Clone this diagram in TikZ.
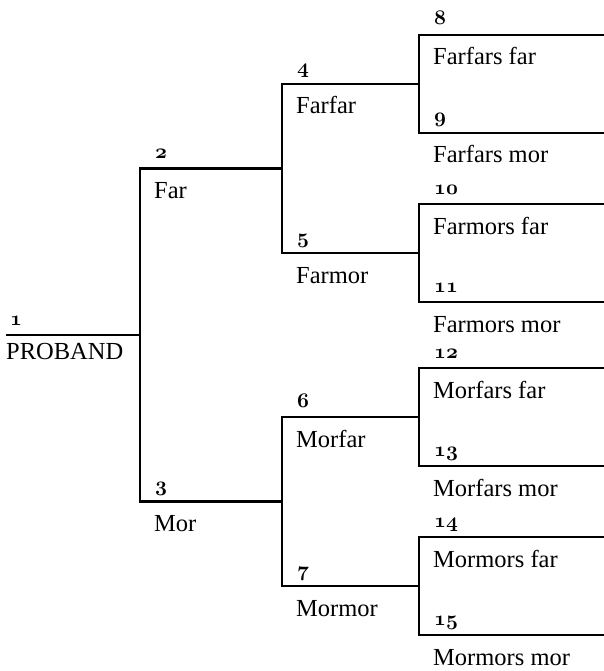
\documentclass[tikz,border=0pt]{standalone}
\usepackage{fontspec}
\setmainfont{Liberation Serif}
\usetikzlibrary{trees}
\tikzset{
    line/.style  = {line width=2.8pt},
    basic/.style = {inner sep=0pt, anchor=base west, font=\fontsize{24.5}{28}\selectfont},
    old/.style   = {basic, font=\fontsize{20.74}{24}\usefont{OML}{cmm}{b}{it}},
    num/.style   = {old, xshift=15pt, yshift=10pt},
    kin/.style   = {basic, xshift=14pt, yshift=-30pt}
}

\begin{document}
\begin{tikzpicture}[x=1pt, y=1pt,
	grow'=right,
	level 1/.style={sibling distance=333pt, level distance=142pt},
	level 2/.style={sibling distance=169pt, level distance=137pt},
	level 3/.style={sibling distance=98pt, level distance=185pt},
	edge from parent/.style={line, draw},
	edge from parent path={(\tikzparentnode) |- (\tikzchildnode)}]
	\useasboundingbox (0,0) rectangle (604,-671);
		% proband
		\coordinate (p0) at (6,-335);
		\path (140,-335) coordinate (p1)
			child{coordinate (p2)
				child{coordinate (p4)
					child{coordinate (p8)}
					child{coordinate (p9)}}
				child{coordinate (p5)
					child{coordinate (p10)}
					child{coordinate (p11)}}}
			child{coordinate (p3)
				child{coordinate (p6)
					child{coordinate (p12)}
					child{coordinate (p13)}}
				child{coordinate (p7)
					child{coordinate (p14)}
					child{coordinate (p15)}}};
		\draw[line] (p0) -- (p1);
		\node[old, xshift=4pt, yshift=10pt] (n1) at (p0) {1};
		\node[basic, yshift=-24pt] (k1) at (p0) {PROBAND};
		% ancestors
		\foreach \i/\who in {2/Far, 3/Mor, 4/Farfar, 5/Farmor, 6/Morfar, 7/Mormor,
			8/Farfars far, 9/Farfars mor, 10/Farmors far, 11/Farmors mor,
			12/Morfars far, 13/Morfars mor, 14/Mormors far, 15/Mormors mor}{
			\pgfmathtruncatemacro\j{\i/2}
			\node[num] (n\i) at (p\i -| p\j) {\i};
			\node[kin] (k\i) at (p\i -| p\j) {\who};
		}
	\end{tikzpicture}
\end{document}
